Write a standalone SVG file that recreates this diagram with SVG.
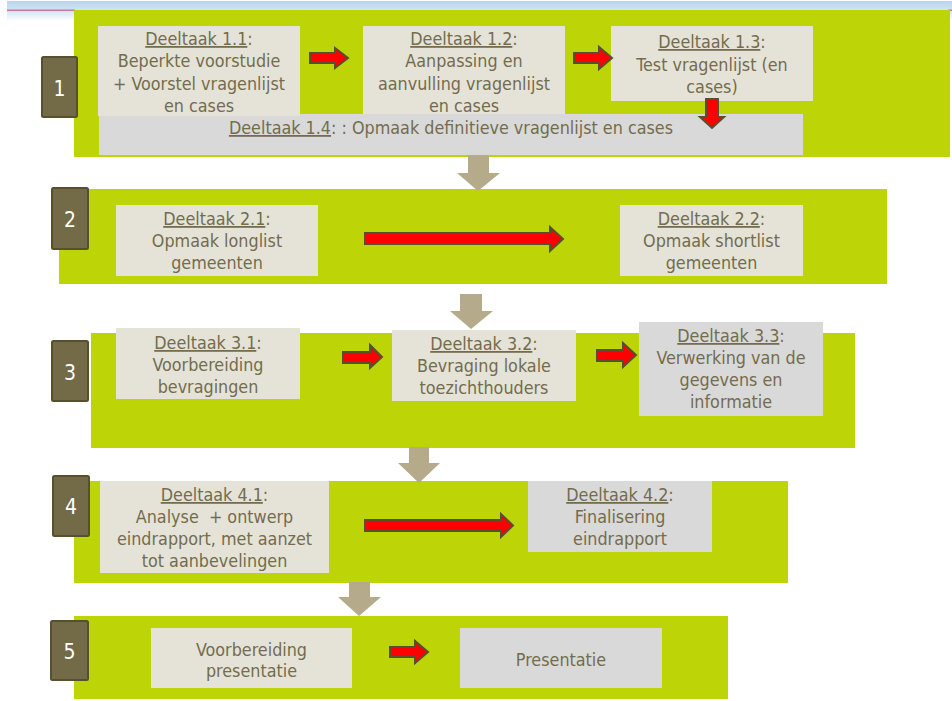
<svg xmlns="http://www.w3.org/2000/svg" width="952" height="701" viewBox="0 0 952 701">
<defs>
<linearGradient id="hdr" x1="0" y1="0" x2="0" y2="1">
<stop offset="0" stop-color="#b9d3ec"/>
<stop offset="0.5" stop-color="#d5e5f4"/>
<stop offset="1" stop-color="#ffffff"/>
</linearGradient>
</defs>
<style>
.panel{fill:#bdd507}
.box{fill:#e5e3d8}
.gbox{fill:#d9d9d9}
.lbl{fill:#736a47;stroke:#57502f;stroke-width:2}
.num{font-family:"DejaVu Sans Condensed","DejaVu Sans",sans-serif;font-size:21px;fill:#ffffff;text-anchor:middle}
.t{font-family:"DejaVu Sans Condensed","Liberation Sans",sans-serif;font-size:17.8px;fill:#736c4d;text-anchor:middle}
.u{text-decoration:underline}
.ra{fill:#ff0000;stroke:#57502f;stroke-width:2;stroke-linejoin:miter}
.ta{fill:#b5ab8a}
</style>
<rect x="0" y="0" width="952" height="701" fill="#ffffff"/>
<rect x="7" y="1" width="945" height="20" fill="url(#hdr)"/>
<rect x="7" y="9.5" width="68" height="1.5" fill="#c8789a"/>
<rect x="948" y="9.5" width="4" height="1.5" fill="#c8789a"/>

<g id="panel1">
<rect class="panel" x="74" y="10" width="876" height="147"/>
</g>
<g id="panel2">
<rect class="panel" x="59" y="189" width="828" height="95"/>
</g>
<g id="panel3">
<rect class="panel" x="91" y="333" width="764" height="115"/>
</g>
<g id="panel4">
<rect class="panel" x="74" y="481" width="714" height="102"/>
</g>
<g id="panel5">
<rect class="panel" x="74" y="616" width="654" height="83"/>
</g>

<g id="label1"><rect class="lbl" x="42" y="57" width="35" height="60" rx="1.5"/><text class="num" x="59.5" y="96">1</text></g>
<g id="label2"><rect class="lbl" x="52" y="188" width="36" height="61" rx="1.5"/><text class="num" x="70" y="227">2</text></g>
<g id="label3"><rect class="lbl" x="52" y="341" width="36" height="60" rx="1.5"/><text class="num" x="70" y="380">3</text></g>
<g id="label4"><rect class="lbl" x="53" y="476" width="36" height="60" rx="1.5"/><text class="num" x="71" y="514">4</text></g>
<g id="label5"><rect class="lbl" x="51" y="621" width="37" height="59" rx="1.5"/><text class="num" x="69.5" y="659">5</text></g>

<g id="task1_4">
<rect class="gbox" x="99" y="114" width="704" height="41"/>
<text class="t" x="451" y="134"><tspan class="u">Deeltaak 1.4</tspan>: : Opmaak definitieve vragenlijst en cases</text>
</g>
<g id="task1_1">
<rect class="box" x="98" y="26" width="202" height="90"/>
<text class="t"><tspan x="199" y="45"><tspan class="u">Deeltaak 1.1</tspan>:</tspan><tspan x="199" y="67">Beperkte voorstudie</tspan><tspan x="199" y="90">+ Voorstel vragenlijst</tspan><tspan x="199" y="112">en cases</tspan></text>
</g>
<g id="task1_2">
<rect class="box" x="363" y="26" width="202" height="88"/>
<text class="t"><tspan x="464" y="45"><tspan class="u">Deeltaak 1.2</tspan>:</tspan><tspan x="464" y="67">Aanpassing en</tspan><tspan x="464" y="90">aanvulling vragenlijst</tspan><tspan x="464" y="112">en cases</tspan></text>
</g>
<g id="task1_3">
<rect class="box" x="611" y="26" width="202" height="75"/>
<text class="t"><tspan x="712" y="48"><tspan class="u">Deeltaak 1.3</tspan>:</tspan><tspan x="712" y="71">Test vragenlijst (en</tspan><tspan x="712" y="93">cases)</tspan></text>
</g>

<g id="task2_1">
<rect class="box" x="116" y="205" width="202" height="71"/>
<text class="t"><tspan x="217" y="225"><tspan class="u">Deeltaak 2.1</tspan>:</tspan><tspan x="217" y="247">Opmaak longlist</tspan><tspan x="217" y="269">gemeenten</tspan></text>
</g>
<g id="task2_2">
<rect class="box" x="620" y="205" width="183" height="71"/>
<text class="t"><tspan x="711.5" y="225"><tspan class="u">Deeltaak 2.2</tspan>:</tspan><tspan x="711.5" y="247">Opmaak shortlist</tspan><tspan x="711.5" y="269">gemeenten</tspan></text>
</g>

<g id="task3_1">
<rect class="box" x="116" y="328" width="184" height="71"/>
<text class="t"><tspan x="208" y="349"><tspan class="u">Deeltaak 3.1</tspan>:</tspan><tspan x="208" y="371">Voorbereiding</tspan><tspan x="208" y="393">bevragingen</tspan></text>
</g>
<g id="task3_2">
<rect class="box" x="392" y="330" width="184" height="71"/>
<text class="t"><tspan x="484" y="350"><tspan class="u">Deeltaak 3.2</tspan>:</tspan><tspan x="484" y="372">Bevraging lokale</tspan><tspan x="484" y="394">toezichthouders</tspan></text>
</g>
<g id="task3_3">
<rect class="gbox" x="639" y="322" width="184" height="94"/>
<text class="t"><tspan x="731" y="342"><tspan class="u">Deeltaak 3.3</tspan>:</tspan><tspan x="731" y="364">Verwerking van de</tspan><tspan x="731" y="386">gegevens en</tspan><tspan x="731" y="408">informatie</tspan></text>
</g>

<g id="task4_1">
<rect class="box" x="100" y="481" width="229" height="92"/>
<text class="t"><tspan x="214.5" y="501"><tspan class="u">Deeltaak 4.1</tspan>:</tspan><tspan x="214.5" y="523">Analyse &#160;+ ontwerp</tspan><tspan x="214.5" y="545">eindrapport, met aanzet</tspan><tspan x="214.5" y="567">tot aanbevelingen</tspan></text>
</g>
<g id="task4_2">
<rect class="gbox" x="528" y="481" width="184" height="71"/>
<text class="t"><tspan x="620" y="501"><tspan class="u">Deeltaak 4.2</tspan>:</tspan><tspan x="620" y="523">Finalisering</tspan><tspan x="620" y="545">eindrapport</tspan></text>
</g>

<g id="task5_1">
<rect class="box" x="151" y="628" width="201" height="60"/>
<text class="t"><tspan x="251.5" y="656">Voorbereiding</tspan><tspan x="251.5" y="677">presentatie</tspan></text>
</g>
<g id="task5_2">
<rect class="gbox" x="460" y="628" width="202" height="60"/>
<text class="t" x="561" y="666">Presentatie</text>
</g>

<g id="connectors">
<path class="ra" d="M310,53 H335 V48 L348,58 L335,68 V63 H310 Z"/>
<path class="ra" d="M574,53 H599 V47 L612,58 L599,69 V63 H574 Z"/>
<path class="ra" d="M706,99 V117 H700 L712,128 L724,117 H718 V99 Z"/>
<path class="ra" d="M365,233 H550 V227 L563,239 L550,251 V244 H365 Z"/>
<path class="ra" d="M343,352 H370 V345 L382,357 L370,368 V363 H343 Z"/>
<path class="ra" d="M597,350 H623 V343 L636,355 L623,367 V361 H597 Z"/>
<path class="ra" d="M365,520 H501 V514 L513,525.5 L501,537 V531 H365 Z"/>
<path class="ra" d="M390,647 H415 V641 L428,652 L415,663 V657 H390 Z"/>
<path class="ta" d="M468,155 V173 H457 L478,191 L500,173 H489 V155 Z"/>
<path class="ta" d="M460,294 V311 H450 L471,329 L493,311 H482 V294 Z"/>
<path class="ta" d="M409,447 V463 H398 L419,483 L440,463 H429 V447 Z"/>
<path class="ta" d="M349,582 V597 H338 L359,616 L381,597 H370 V582 Z"/>
</g>
</svg>
